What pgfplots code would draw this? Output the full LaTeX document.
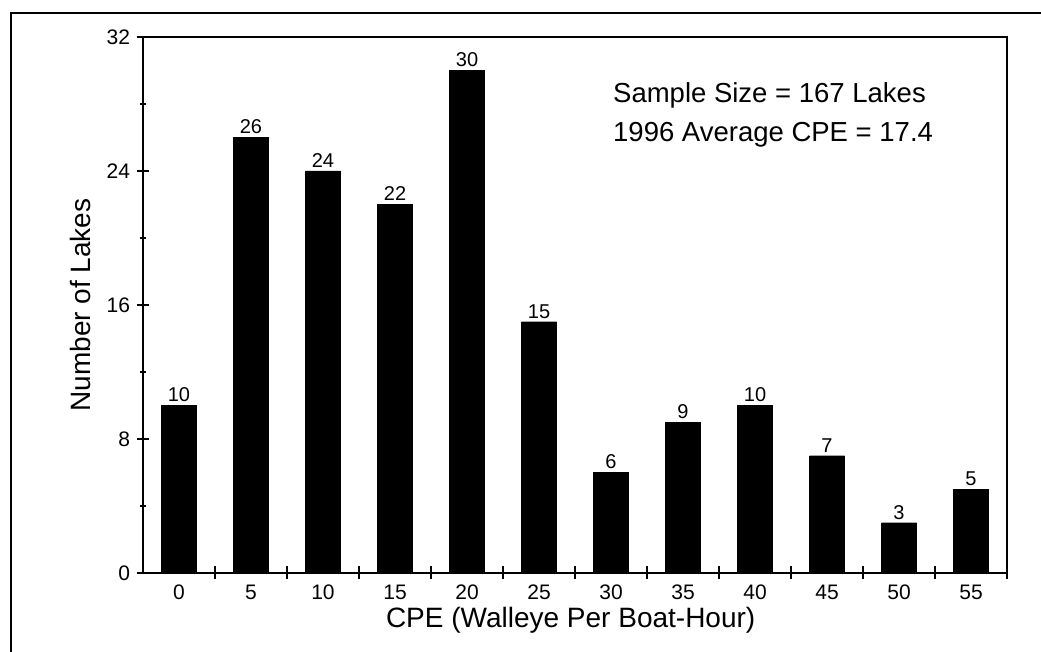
\documentclass[border=0pt]{standalone}
\usepackage{pgfplots}
\pgfplotsset{compat=1.18}
\usepackage{fontspec}
\setmainfont{Liberation Sans}
\newcommand{\tkf}{\fontsize{21}{22}\selectfont}
\begin{document}
\begin{tikzpicture}
\begin{axis}[
  at={(143pt,79pt)}, anchor=south west,
  scale only axis, width=864pt, height=536pt,
  xmin=-0.5, xmax=11.5, ymin=0, ymax=32,
  ybar, bar width=35pt, bar shift=0pt,
  axis line style={line width=1.3pt},
  xtick={0.5,1.5,2.5,3.5,4.5,5.5,6.5,7.5,8.5,9.5,10.5,11.5},
  xticklabels={\tkf 0,\tkf 5,\tkf 10,\tkf 15,\tkf 20,\tkf 25,\tkf 30,\tkf 35,\tkf 40,\tkf 45,\tkf 50,\tkf 55},
  xtick pos=bottom, ytick pos=left,
  ytick={0,8,16,24,32}, minor y tick num=1,
  yticklabels={\tkf 0,\tkf 8,\tkf 16,\tkf 24,\tkf 32},
  tick align=center, major tick length=13pt, minor tick length=7pt,
  every tick/.style={line width=1.2pt, black},
  /pgf/number format/assume math mode=true,
  x tick label style={xshift=-36pt, anchor=base, yshift=-20pt, inner sep=0pt},
  y tick label style={xshift=-3pt},
  xlabel={CPE (Walleye Per Boat-Hour)},
  ylabel={Number of Lakes},
  label style={font=\fontsize{28}{32}\selectfont},
  xlabel style={at={(axis description cs:0.495,-0.1013)}, anchor=base, inner sep=0pt},
  ylabel style={at={(axis description cs:-0.0718,0.5)}, anchor=center},
  nodes near coords={\fontsize{20}{22}\selectfont\pgfmathprintnumber{\pgfplotspointmeta}},
  every node near coord/.append style={black},
]
\addplot[fill=black, draw=black] coordinates {
(0,10) (1,26) (2,24) (3,22) (4,30) (5,15) (6,6) (7,9) (8,10) (9,7) (10,3) (11,5)};
\end{axis}
\node[anchor=base west, inner sep=0pt, font=\fontsize{27.5}{30}\selectfont] at (613pt,549pt) {Sample Size = 167 Lakes};
\node[anchor=base west, inner sep=0pt, font=\fontsize{27.5}{30}\selectfont] at (613pt,510pt) {1996 Average CPE = 17.4};
\draw[line width=1.2pt] (11pt,-5pt) -- (11pt,639pt) -- (1050pt,639pt);
\pgfresetboundingbox
\path[use as bounding box] (0pt,0pt) rectangle (1041pt,652pt);
\end{tikzpicture}
\end{document}
